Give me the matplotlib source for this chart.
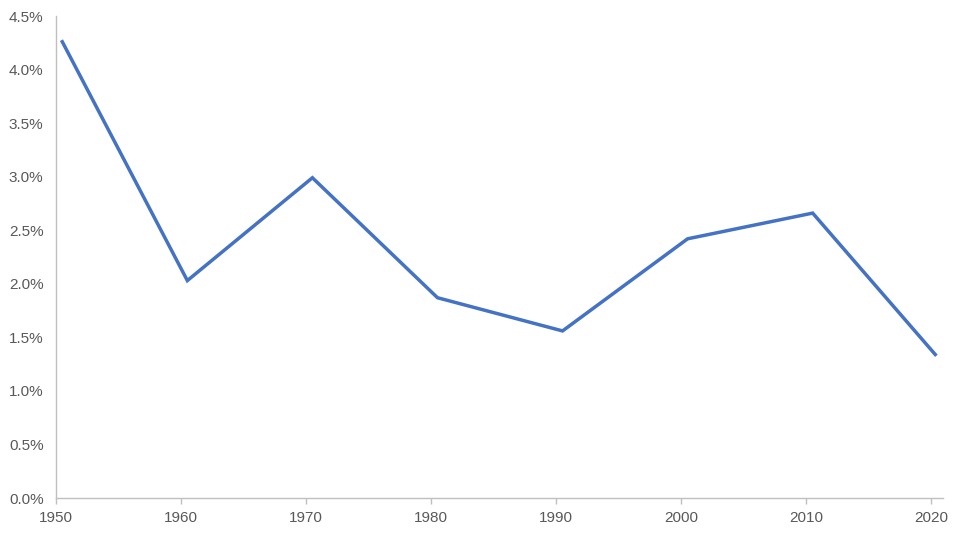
import matplotlib.pyplot as plt
from matplotlib.ticker import FuncFormatter

plt.rcParams['font.family'] = ['Liberation Sans', 'DejaVu Sans']

# data (decade points sit around mid-year)
years = [1950.5, 1960.5, 1970.5, 1980.5, 1990.5, 2000.5, 2010.5, 2020.3]
values = [4.26, 2.03, 2.99, 1.87, 1.56, 2.42, 2.66, 1.34]
xticks = [1950, 1960, 1970, 1980, 1990, 2000, 2010, 2020]
yticks = [0.0, 0.5, 1.0, 1.5, 2.0, 2.5, 3.0, 3.5, 4.0, 4.5]

fig = plt.figure(figsize=(9.61, 5.34), dpi=100)
ax = fig.add_axes([0.0583, 0.0674, 0.9227, 0.9026])

ax.plot(years, values, color='#4472C4', linewidth=2.5, solid_joinstyle='miter')

ax.set_xlim(1950, 2020.9)
ax.set_ylim(0, 4.5)
ax.set_xticks(xticks)
ax.set_yticks(yticks)
ax.yaxis.set_major_formatter(FuncFormatter(lambda v, p: '%.1f%%' % v))

for s in ['top', 'right']:
    ax.spines[s].set_visible(False)
for s in ['left', 'bottom']:
    ax.spines[s].set_color('#BFBFBF')
    ax.spines[s].set_linewidth(1)

ax.tick_params(axis='x', colors='#BFBFBF', length=4, width=1, labelcolor='#595959', labelsize=11, pad=5)
ax.tick_params(axis='y', length=0, labelcolor='#595959', labelsize=11, pad=9)

fig.savefig('out.png', dpi=100)
